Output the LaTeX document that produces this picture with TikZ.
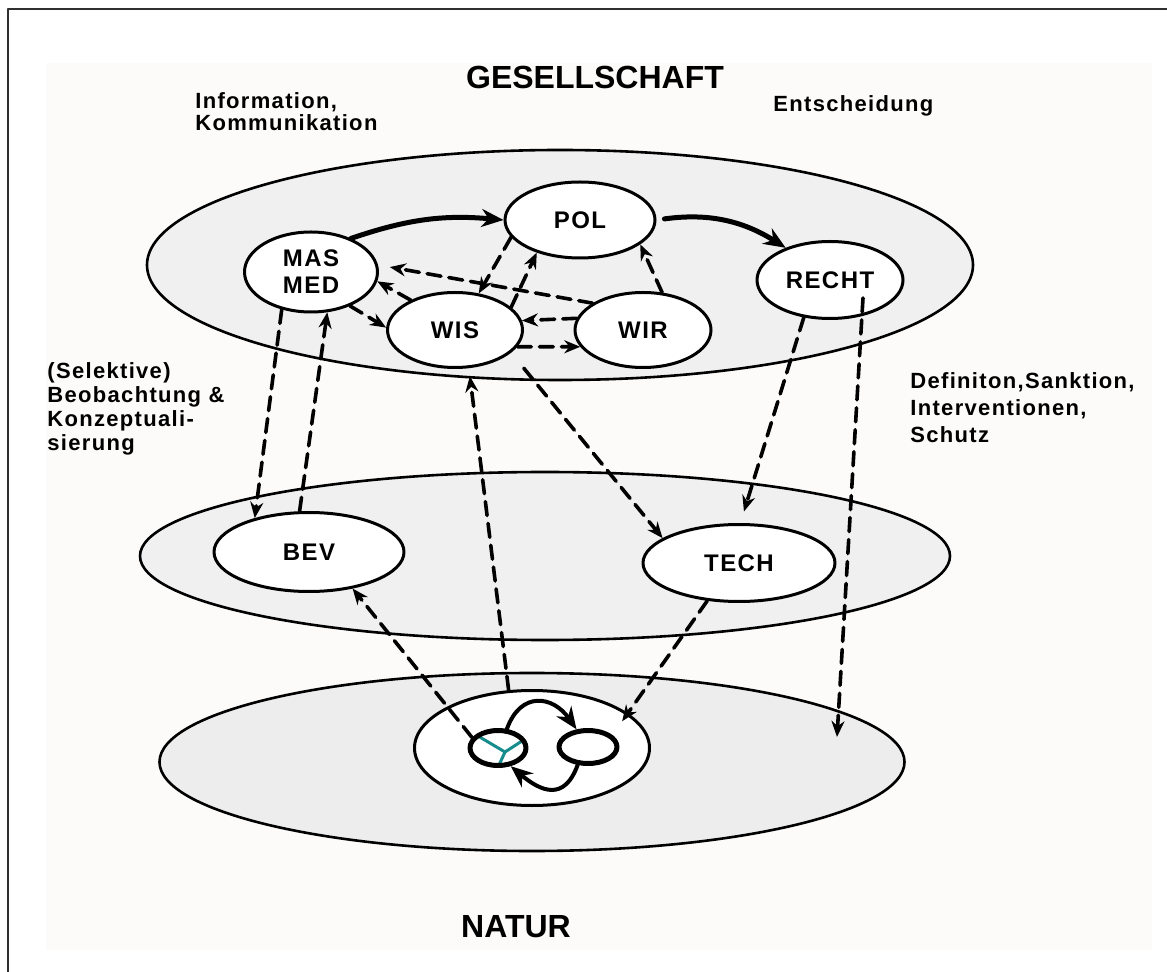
\documentclass[tikz,border=0pt]{standalone}
\usepackage{fontspec}
\setmainfont{Liberation Sans}
\newfontfamily\weitfont[LetterSpace=6.0]{Liberation Sans}
\usepackage{tikz}
\usetikzlibrary{arrows.meta,calc,shapes.geometric}
\definecolor{ebenegrau}{HTML}{F0F0F0}
\definecolor{naturgrau}{HTML}{EDEDED}
\definecolor{blattweiss}{HTML}{FCFBFA}
\definecolor{rahmenlinie}{HTML}{303030}
\definecolor{kreuzteal}{HTML}{168C8C}
\tikzset{
every picture/.style={line cap=round,line join=round},
ebene/.style={
  ellipse,
  draw=black,
  line width=1.3pt,
  fill=ebenegrau,
  inner sep=0pt
},
akteur/.style={
  ellipse,
  draw=black,
  line width=1.5pt,
  fill=white,
  inner sep=0pt,
  align=center,
  font=\weitfont\bfseries\fontsize{12}{13.5}\selectfont
},
zyklus/.style={ellipse, draw=black, line width=2.5pt, inner sep=0pt},
fluss/.style={
  draw=black,
  line width=2.5pt,
  -{Stealth[length=11pt,width=9pt]}
},
wirkung/.style={
  draw=black,
  line width=1.8pt,
  dash pattern=on 7pt off 4pt,
  -{Stealth[length=8pt,width=6.5pt]}
},
etikett/.style={inner sep=0pt, anchor=north west, align=left,
  font=\weitfont\bfseries\fontsize{11}{12}\selectfont},
titel/.style={inner sep=0pt, font=\bfseries\fontsize{16}{18}\selectfont}
}

\begin{document}
\begin{tikzpicture}[x=0.5pt,y=0.5pt]
\useasboundingbox (0,0) rectangle (1167,-972);
\fill[blattweiss] (46,-63) rectangle (1152,-950);
\draw[rahmenlinie, line width=1pt] (8,-972) -- (8,-9) -- (1167,-9);
% drei Ebenen
\node[ebene, minimum width=413pt, minimum height=115pt] (gesell) at (560,-265) {};
\node[ebene, minimum width=405pt, minimum height=84pt] (mitte) at (545,-556) {};
\node[ebene, fill=naturgrau, minimum width=372.5pt, minimum height=89pt] (natur) at (532,-762) {};
% Akteure
\node[akteur, minimum width=75pt, minimum height=38pt] (pol) at (580,-220) {POL};
\node[akteur, minimum width=66.5pt, minimum height=40pt] (masmed) at (311,-272) {MAS\\MED};
\node[akteur, minimum width=67.5pt, minimum height=37.5pt] (wis) at (455,-330) {WIS};
\node[akteur, minimum width=68pt, minimum height=37.5pt] (wir) at (643,-330) {WIR};
\node[akteur, minimum width=73pt, minimum height=38.5pt] (recht) at (830,-280) {RECHT};
\node[akteur, minimum width=95pt, minimum height=39.5pt] (bev) at (309,-552) {BEV};
\node[akteur, minimum width=96pt, minimum height=38.5pt] (tech) at (739,-563) {TECH};
\node[akteur, minimum width=117.5pt, minimum height=57.5pt] (kreis) at (532,-748) {};
\draw[kreuzteal, line width=1.5pt] (478,-736) -- (505,-752) -- (522,-741) (505,-752) -- (499,-765);
\node[zyklus, minimum width=28pt, minimum height=17.5pt] (kl) at (498,-748) {};
\node[zyklus, minimum width=29pt, minimum height=16.5pt] (kr) at (588,-747) {};
% Texte
\node[titel] (gtitel) at (595,-77) {GESELLSCHAFT};
\node[titel] (ntitel) at (516,-927) {NATUR};
\node[etikett, font=\weitfont\bfseries\fontsize{11}{11}\selectfont] (info) at (195,-92) {Information,\\Kommunikation};
\node[etikett] (entsch) at (773,-95) {Entscheidung};
\node[etikett] (beob) at (47,-362) {(Selektive)\\Beobachtung \&\\Konzeptuali-\\sierung};
\node[etikett, font=\weitfont\bfseries\fontsize{11}{13.5}\selectfont] (defi) at (910,-372) {Definiton,Sanktion,\\Interventionen,\\Schutz};
% Entscheidungsfluss
\draw[fluss] (masmed.40) to[bend left=12] (pol.west);
\draw[fluss, shorten <=4pt] (pol.east) to[bend left=20] (recht.144);
% Wechselwirkungen oben
\draw[wirkung, shorten >=6pt] (wir.152) -- (masmed.6);
\draw[wirkung] (wis.146) -- (masmed.-8);
\draw[wirkung] (masmed.-41) -- (wis.178);
\draw[wirkung] (pol.194) -- (wis.57);
\draw[wirkung] (wis.22) -- (pol.217);
\draw[wirkung] (wir.63) -- (pol.338);
\draw[wirkung] (wir.170) -- (wis.8);
\draw[wirkung] (wis.-15) -- (wir.195);
% zwischen den Ebenen
\coordinate (rechtfuss) at ($(recht)+(33,-18)$);
\coordinate (naturziel) at (837,-737);
\draw[wirkung] (masmed.232) -- (bev.148);
\draw[wirkung] (bev.103) -- (masmed.-68);
\draw[wirkung, shorten >=4pt] (kreis.112) -- (wis.-70);
\draw[wirkung, shorten <=10pt] (wis.-22) -- (tech.162);
\draw[wirkung, shorten >=6pt] (recht.235) -- (tech.88);
\draw[wirkung] (rechtfuss) -- (naturziel);
\draw[wirkung, shorten >=-5pt] (tech.230) -- (kreis.20);
\draw[wirkung] (kl.158) -- (bev.-40);
% Kreislauf
\draw[fluss, line width=2pt] (kl.65) to[out=70,in=125,looseness=1.5] (kr.123);
\draw[fluss, line width=2pt] (kr.240) to[out=-110,in=-40,looseness=1.5] (kl.-55);
\end{tikzpicture}
\end{document}
